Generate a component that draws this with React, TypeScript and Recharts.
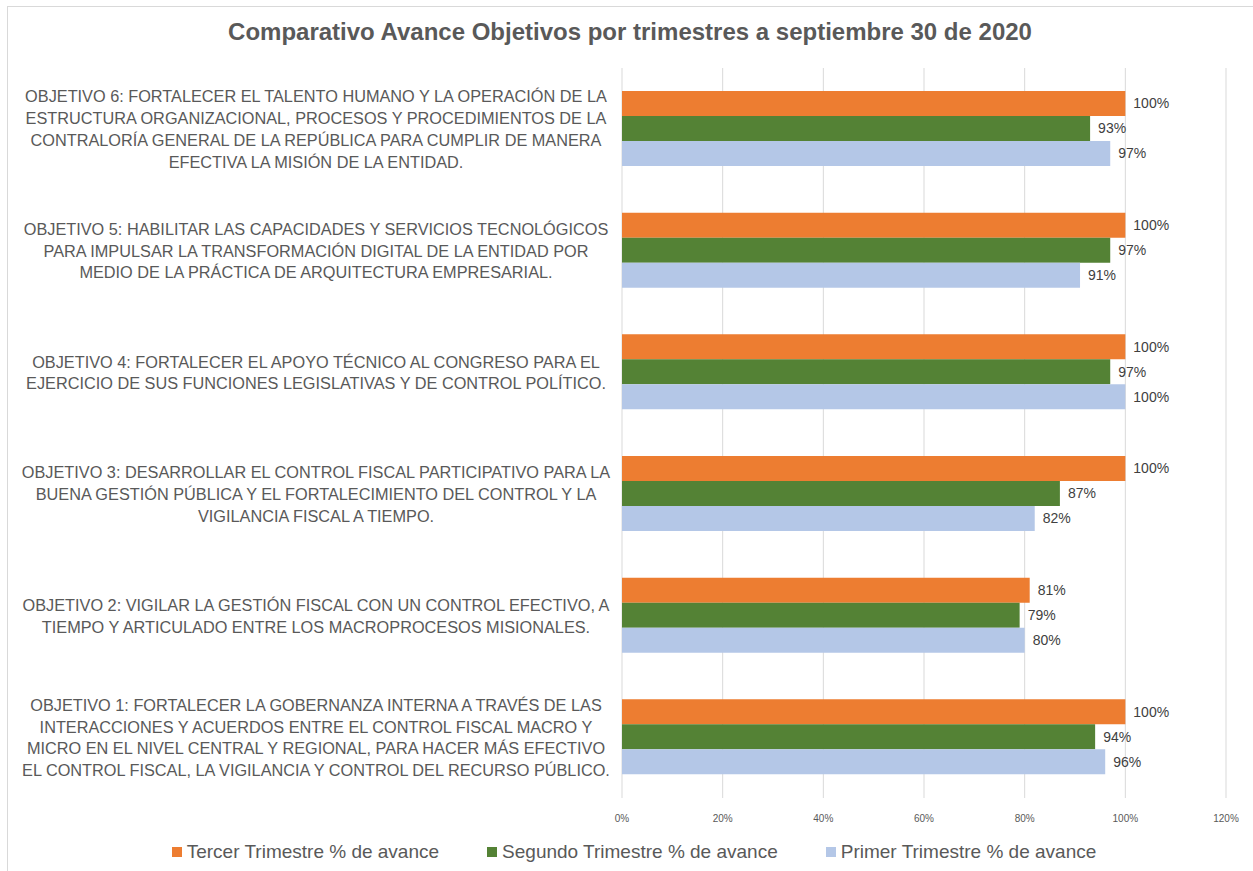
import React from "react";
import {
  Bar,
  BarChart,
  CartesianGrid,
  LabelList,
  Legend,
  XAxis,
  YAxis,
} from "recharts";

const objetivos = [
  "OBJETIVO 6: FORTALECER EL TALENTO HUMANO Y LA OPERACIÓN DE LA\nESTRUCTURA ORGANIZACIONAL, PROCESOS Y PROCEDIMIENTOS DE LA\nCONTRALORÍA GENERAL DE LA REPÚBLICA PARA CUMPLIR DE MANERA\nEFECTIVA LA MISIÓN DE LA ENTIDAD.",
  "OBJETIVO 5: HABILITAR LAS CAPACIDADES Y SERVICIOS TECNOLÓGICOS\nPARA IMPULSAR LA TRANSFORMACIÓN DIGITAL DE LA ENTIDAD POR\nMEDIO DE LA PRÁCTICA DE ARQUITECTURA EMPRESARIAL.",
  "OBJETIVO 4: FORTALECER EL APOYO TÉCNICO AL CONGRESO PARA EL\nEJERCICIO DE SUS FUNCIONES LEGISLATIVAS Y DE CONTROL POLÍTICO.",
  "OBJETIVO 3: DESARROLLAR EL CONTROL FISCAL PARTICIPATIVO PARA LA\nBUENA GESTIÓN PÚBLICA Y EL FORTALECIMIENTO DEL CONTROL Y LA\nVIGILANCIA FISCAL A TIEMPO.",
  "OBJETIVO 2: VIGILAR LA GESTIÓN FISCAL CON UN CONTROL EFECTIVO, A\nTIEMPO Y ARTICULADO ENTRE LOS MACROPROCESOS MISIONALES.",
  "OBJETIVO 1: FORTALECER LA GOBERNANZA INTERNA A TRAVÉS DE LAS\nINTERACCIONES Y ACUERDOS ENTRE EL CONTROL FISCAL MACRO Y\nMICRO EN EL NIVEL CENTRAL Y REGIONAL, PARA HACER MÁS EFECTIVO\nEL CONTROL FISCAL, LA VIGILANCIA Y CONTROL DEL RECURSO PÚBLICO.",
];

const tercer = [100, 100, 100, 100, 81, 100];
const segundo = [93, 97, 97, 87, 79, 94];
const primer = [97, 91, 100, 82, 80, 96];

const xTicks = [0, 20, 40, 60, 80, 100, 120];

const series = [
  { key: "tercer", name: "Tercer Trimestre % de avance", color: "#ED7D31" },
  { key: "segundo", name: "Segundo Trimestre % de avance", color: "#548235" },
  { key: "primer", name: "Primer Trimestre % de avance", color: "#B4C7E7" },
];

const data = objetivos.map((o, i) => ({
  objetivo: o,
  tercer: tercer[i],
  segundo: segundo[i],
  primer: primer[i],
}));

const FONT = "'Liberation Sans', Arial, sans-serif";

function ObjetivoTick(props: any) {
  const { y, payload } = props;
  const lines: string[] = String(payload.value).split("\n");
  const lh = 21.7;
  const start = -((lines.length - 1) * lh) / 2;
  return (
    <text
      x={316}
      y={y}
      textAnchor="middle"
      fill="#595959"
      fontSize={16.3}
      fontFamily={FONT}
    >
      {lines.map((l, i) => (
        <tspan key={i} x={316} y={y + start + i * lh + 0.5} dy="0.35em">
          {l}
        </tspan>
      ))}
    </text>
  );
}

function LegendBox() {
  return (
    <div
      style={{
        height: 43,
        display: "flex",
        justifyContent: "center",
        alignItems: "center",
        gap: 48,
        fontFamily: FONT,
        fontSize: 19,
        color: "#595959",
        paddingLeft: 42,
        paddingTop: 4,
        boxSizing: "border-box",
      }}
    >
      {series.map((s) => (
        <div key={s.key} style={{ display: "flex", alignItems: "center" }}>
          <span
            style={{
              width: 10,
              height: 10,
              background: s.color,
              display: "inline-block",
              marginRight: 5,
            }}
          />
          {s.name}
        </div>
      ))}
    </div>
  );
}

export default function App() {
  return (
    <div
      style={{
        position: "absolute",
        left: 0,
        top: 0,
        width: 1253,
        height: 871,
        background: "#fff",
        overflow: "hidden",
      }}
    >
      <div
        style={{
          position: "absolute",
          left: 7,
          top: 6,
          width: 1300,
          height: 900,
          borderTop: "1px solid #d9d9d9",
          borderLeft: "1px solid #d9d9d9",
        }}
      />
      <div
        style={{
          position: "absolute",
          left: 0,
          top: 18,
          width: 1260,
          textAlign: "center",
          fontFamily: FONT,
          fontWeight: "bold",
          fontSize: 24,
          color: "#595959",
        }}
      >
        Comparativo Avance Objetivos por trimestres a septiembre 30 de 2020
      </div>
      <BarChart
        width={1253}
        height={871}
        data={data}
        layout="vertical"
        barGap={0}
        barSize={25}
        margin={{ top: 68, right: 27, left: 0, bottom: 0 }}
        style={{ position: "absolute", left: 0, top: 0 }}
      >
        <CartesianGrid horizontal={false} stroke="#d9d9d9" />
        <XAxis
          type="number"
          domain={[0, 120]}
          ticks={xTicks}
          tickFormatter={(v) => `${v}%`}
          axisLine={false}
          tickLine={false}
          tickMargin={11}
          height={30}
          tick={{ fontSize: 10, fill: "#595959", fontFamily: FONT }}
          interval={0}
        />
        <YAxis
          type="category"
          dataKey="objetivo"
          width={622}
          axisLine={false}
          tickLine={false}
          tick={<ObjetivoTick />}
          interval={0}
        />
        <Legend verticalAlign="bottom" content={<LegendBox />} />
        {series.map((s) => (
          <Bar
            key={s.key}
            dataKey={s.key}
            name={s.name}
            fill={s.color}
            isAnimationActive={false}
          >
            <LabelList
              dataKey={s.key}
              position="right"
              offset={8}
              formatter={(v: any) => `${v}%`}
              style={{ fontSize: 14, fill: "#404040", fontFamily: FONT }}
            />
          </Bar>
        ))}
      </BarChart>
    </div>
  );
}
